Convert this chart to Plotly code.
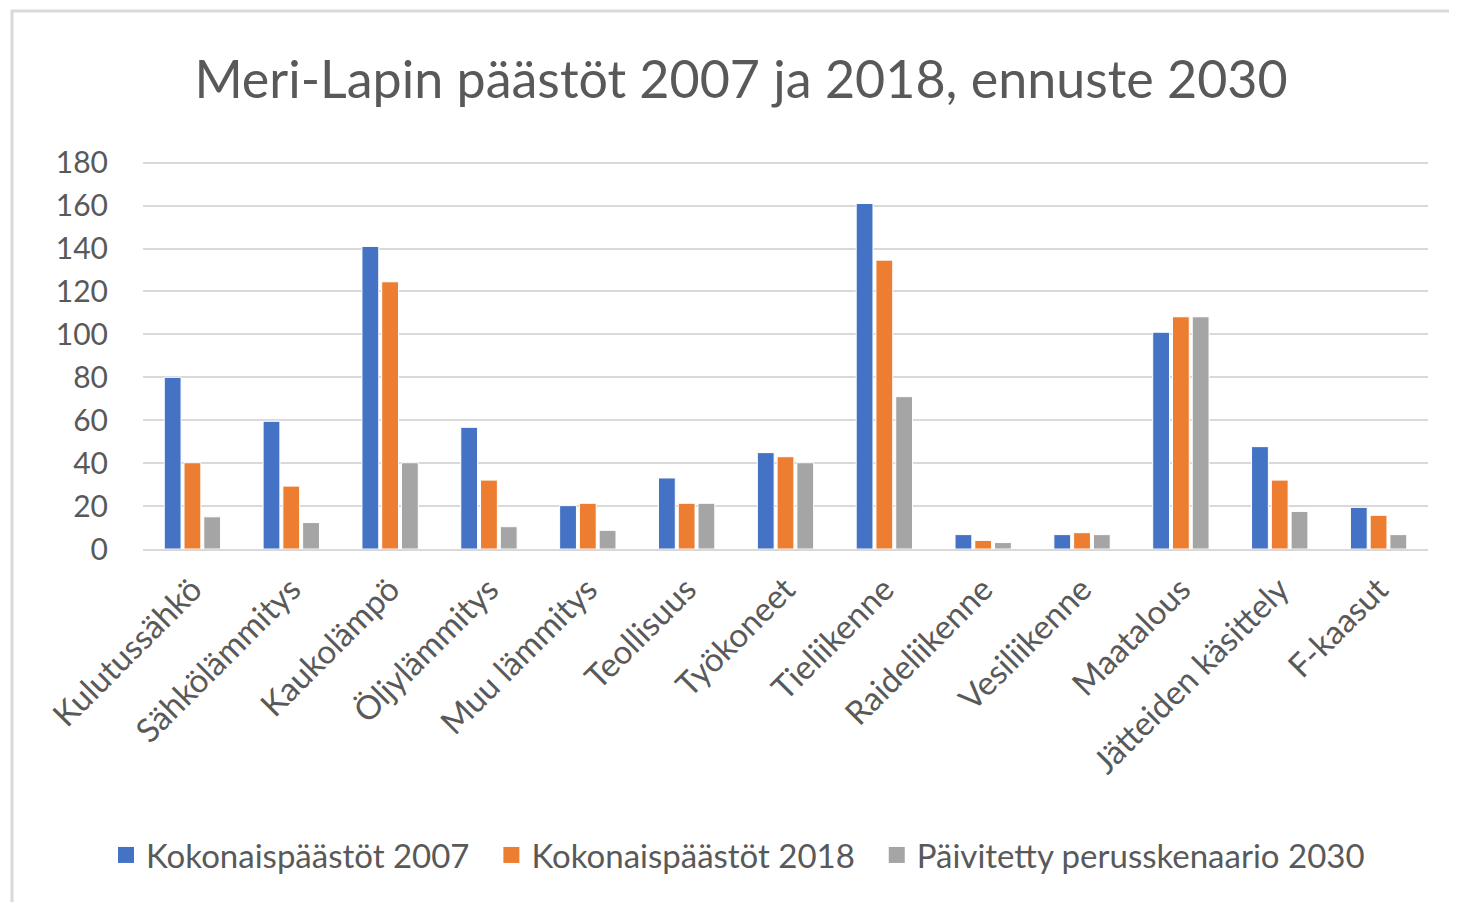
import plotly.graph_objects as go

categories = ["Kulutussähkö", "Sähkölämmitys", "Kaukolämpö", "Öljylämmitys", "Muu lämmitys",
              "Teollisuus", "Työkoneet", "Tieliikenne", "Raideliikenne", "Vesiliikenne",
              "Maatalous", "Jätteiden käsittely", "F-kaasut"]
series_names = ["Kokonaispäästöt 2007", "Kokonaispäästöt 2018", "Päivitetty perusskenaario 2030"]
values_2007 = [80, 59.5, 141, 56.7, 20.2, 33.1, 44.9, 161, 6.7, 6.7, 101, 47.7, 19.4]
values_2018 = [40.2, 29.3, 124.5, 32.1, 21.3, 21.3, 43.0, 134.6, 4.0, 7.6, 108.2, 32.1, 15.7]
values_2030 = [15, 12.3, 40.2, 10.4, 8.7, 21.3, 40.2, 71.0, 3.0, 6.7, 108.2, 17.5, 6.7]
y_ticks = [0, 20, 40, 60, 80, 100, 120, 140, 160, 180]
colors = ["#4472C4", "#ED7D31", "#A5A5A5"]

FONT = "Lato"
TXT = "#595959"

# page has an 8px body margin; figure sized to fit inside the window
OFF = 8
W, H = 1457 - 2 * OFF, 910 - 2 * OFF
L, R, T, B = 135, 21, 153, 353
pw, ph = W - L - R, H - T - B
Y_TOP = ph * 180 / 386.3

def px_x(p):  # reference page pixel -> paper x
    return (p - OFF - L) / pw

def px_y(p):  # reference page pixel -> paper y
    return (H - B - (p - OFF)) / ph

fig = go.Figure()
for name, vals, col in zip(series_names, [values_2007, values_2018, values_2030], colors):
    fig.add_trace(go.Bar(x=categories, y=vals, name=name, showlegend=False,
                         marker=dict(color=col, line=dict(color="white", width=1))))
PAD = "\u00a0\u00a0"
for i, (name, col) in enumerate(zip(series_names, colors)):
    label = name + (PAD if i < len(series_names) - 1 else "")
    fig.add_trace(go.Scatter(x=[None], y=[None], mode="markers", name=label,
                             marker=dict(symbol="square", size=20, color=col)))

fig.update_layout(
    width=W, height=H,
    margin=dict(l=L, r=R, t=T, b=B, autoexpand=False),
    paper_bgcolor="white", plot_bgcolor="white",
    font=dict(family=FONT, color=TXT, size=30),
    title=dict(text="Meri-Lapin päästöt 2007 ja 2018, ennuste 2030",
               x=(741 - OFF) / W, xanchor="center", xref="container",
               y=1 - (80 - OFF) / H, yanchor="middle", yref="container",
               font=dict(family=FONT, size=52, color=TXT)),
    barmode="group", bargap=0.4, bargroupgap=0.15,
    showlegend=True,
    legend=dict(orientation="h", x=px_x(106), xref="paper", xanchor="left",
                y=px_y(855), yref="paper", yanchor="middle",
                font=dict(family=FONT, size=33, color=TXT),
                traceorder="normal", bgcolor="rgba(0,0,0,0)"),
    xaxis=dict(tickangle=-45, showgrid=False, showline=True, linecolor="#D9D9D9", linewidth=2,
               ticks="", tickmode="array", tickvals=categories, ticktext=categories,
               ticklabelstandoff=6,
               tickfont=dict(family=FONT, size=33, color=TXT)),
    yaxis=dict(range=[0, Y_TOP], tickvals=y_ticks, showgrid=True, gridcolor="#D9D9D9", gridwidth=2,
               zeroline=False, showline=False, ticks="", ticklabelstandoff=34,
               tickfont=dict(family=FONT, size=30, color=TXT)),
    shapes=[dict(type="rect", xref="paper", yref="paper",
                 x0=px_x(12), x1=px_x(1475), y0=px_y(930), y1=px_y(11),
                 line=dict(color="#D9D9D9", width=3), fillcolor="rgba(0,0,0,0)", layer="below")],
)

fig.write_html("out.html")
